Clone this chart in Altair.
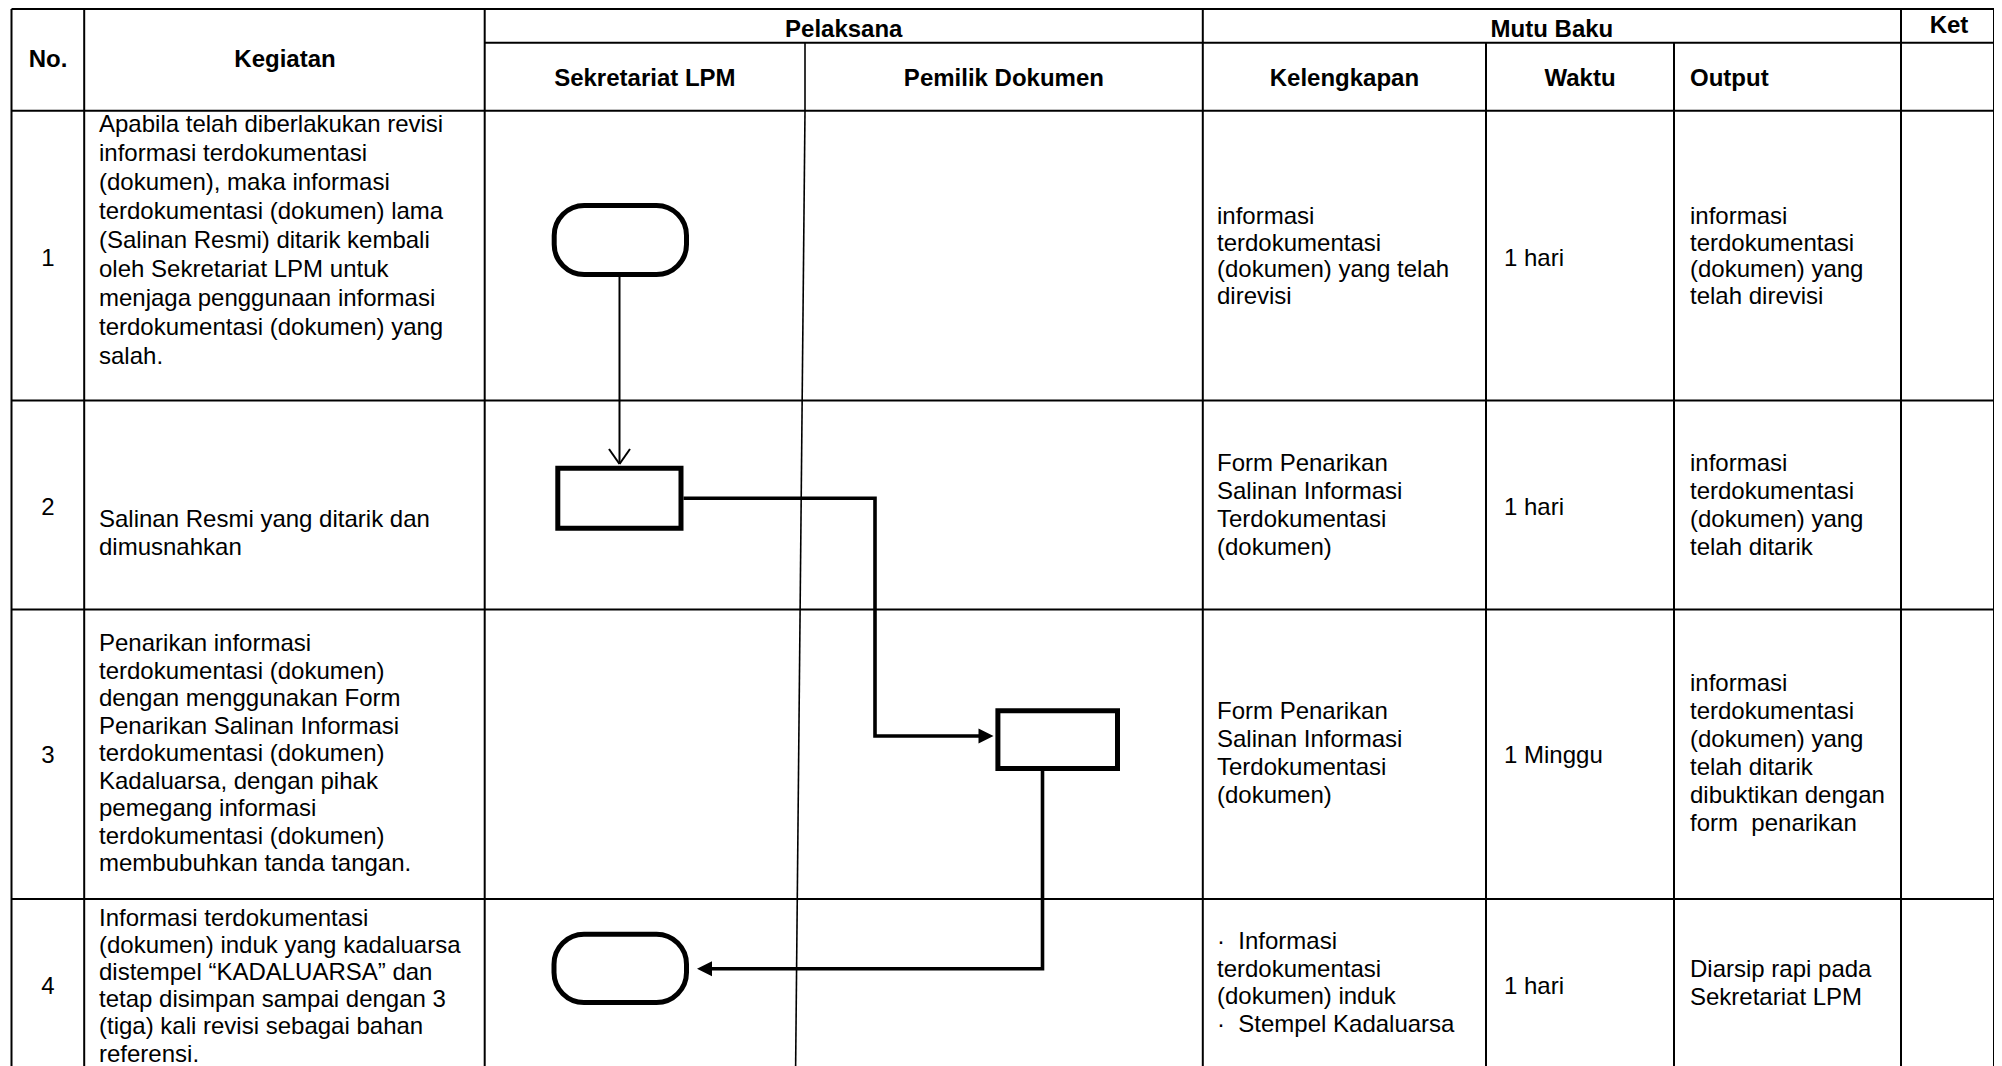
import altair as alt
import pandas as pd

# ------------------------------------------------------------------ content
HEAD_TOP = ["Pelaksana", "Mutu Baku", "Ket"]
HEAD_SPAN = ["No.", "Kegiatan"]
HEAD_SUB = ["Sekretariat LPM", "Pemilik Dokumen", "Kelengkapan", "Waktu"]
HEAD_SUB_LEFT = ["Output"]
ROW_NO = ["1", "2", "3", "4"]

KEGIATAN = [
    ["Apabila telah diberlakukan revisi", "informasi terdokumentasi",
     "(dokumen), maka informasi", "terdokumentasi (dokumen) lama",
     "(Salinan Resmi) ditarik kembali", "oleh Sekretariat LPM untuk",
     "menjaga penggunaan informasi", "terdokumentasi (dokumen) yang", "salah."],
    ["Salinan Resmi yang ditarik dan", "dimusnahkan"],
    ["Penarikan informasi", "terdokumentasi (dokumen)", "dengan menggunakan Form",
     "Penarikan Salinan Informasi", "terdokumentasi (dokumen)",
     "Kadaluarsa, dengan pihak", "pemegang informasi",
     "terdokumentasi (dokumen)", "membubuhkan tanda tangan."],
    ["Informasi terdokumentasi", "(dokumen) induk yang kadaluarsa",
     "distempel \u201cKADALUARSA\u201d dan", "tetap disimpan sampai dengan 3",
     "(tiga) kali revisi sebagai bahan", "referensi."],
]
KELENGKAPAN = [
    ["informasi", "terdokumentasi", "(dokumen) yang telah", "direvisi"],
    ["Form Penarikan", "Salinan Informasi", "Terdokumentasi", "(dokumen)"],
    ["Form Penarikan", "Salinan Informasi", "Terdokumentasi", "(dokumen)"],
    ["\u00b7\u00a0\u00a0Informasi", "terdokumentasi", "(dokumen) induk",
     "\u00b7\u00a0\u00a0Stempel Kadaluarsa"],
]
WAKTU = ["1 hari", "1 hari", "1 Minggu", "1 hari"]
OUTPUT = [
    ["informasi", "terdokumentasi", "(dokumen) yang", "telah direvisi"],
    ["informasi", "terdokumentasi", "(dokumen) yang", "telah ditarik"],
    ["informasi", "terdokumentasi", "(dokumen) yang", "telah ditarik",
     "dibuktikan dengan", "form\u00a0\u00a0penarikan"],
    ["Diarsip rapi pada", "Sekretariat LPM"],
]
STEP_SHAPE = ["terminator", "process", "process", "terminator"]

# ------------------------------------------------------------------ layout (page px)
W, H = 1986, 1058
X0, Y0 = 8, 8
XL, XNO, XKEG, XLANE, XMUTU, XWAKTU, XOUT, XKET, XR = 11.5, 84.2, 484.7, 805, 1202.8, 1486, 1674, 1901, 1994
YT, YSUB, YHEAD = 9, 42.7, 110.7
YROWS = [400.6, 609.5, 899]
YB = 1080
LANE_BOTTOM_X = 795.5

COL_TEXT = {  # x, first line y per row, line step per row
    "kegiatan": (99, [125, 520, 644, 918.5], [29, 28.4, 27.5, 27.2]),
    "kelengkapan": (1217, [217, 464, 712, 942], [26.7, 28, 28, 27.7]),
    "output": (1690, [217, 464, 684, 970], [26.7, 28, 28, 28]),
}
ROW_MID_Y = [258.5, 507.5, 756, 986.5]
WAKTU_X = 1504
NO_X = 48

SHAPE_BOX = [  # x, x2, y, y2 (stroke centre lines)
    (554.2, 686.5, 205.5, 274.5),
    (557.8, 681.0, 468.2, 528.2),
    (997.9, 1117.5, 710.8, 768.5),
    (554.0, 686.5, 934.2, 1002.5),
]
FLOWS = [
    [(683.5, 498.3), (875, 498.3), (875, 736), (979, 736)],
    [(1042.5, 771), (1042.5, 968.7), (711, 968.7)],
]
THIN_FLOW = [(619.5, 277), (619.5, 464)]
ARROW_FILLED = [("right", 993.5, 736), ("left", 697, 968.7)]

# ------------------------------------------------------------------ data frames
rules = []
def seg(x, y, x2, y2, w):
    rules.append(dict(x=x, y=y, x2=x2, y2=y2, w=w))

# table grid
seg(XL, YT, XR, YT, 2)
seg(XKEG, YSUB, XR, YSUB, 2)
for yy in [YHEAD] + YROWS:
    seg(XL, yy, XR, yy, 2)
for xx in [XL, XNO, XKEG, XMUTU, XKET, XR]:
    seg(xx, YT, xx, YB, 2)
for xx in [XWAKTU, XOUT]:
    seg(xx, YSUB, xx, YB, 2)
seg(XLANE, YSUB, XLANE, YHEAD, 1.6)
seg(XLANE, YHEAD, LANE_BOTTOM_X, YB, 1.6)
# thin connector with open arrow head
(tx, ty), (tx2, ty2) = THIN_FLOW
seg(tx, ty, tx2, ty2, 2)
seg(tx2 - 10.5, ty2 - 15, tx2, ty2, 2)
seg(tx2 + 10.5, ty2 - 15, tx2, ty2, 2)
# small stroke inside bottom of process box 3
seg(1041, 767.5, 1083.5, 767.5, 3)
rules_df = pd.DataFrame(rules)

flow_rows = []
for k, pts in enumerate(FLOWS):
    for i, (px, py) in enumerate(pts):
        flow_rows.append(dict(seg=k, i=i, x=px, y=py))
flow_df = pd.DataFrame(flow_rows)

box_df = pd.DataFrame([dict(kind=STEP_SHAPE[i], x=b[0], x2=b[1], y=b[2], y2=b[3])
                       for i, b in enumerate(SHAPE_BOX)])

arrow_right = pd.DataFrame([dict(x=a[1] - 7.5, y=a[2]) for a in ARROW_FILLED if a[0] == "right"])
arrow_left = pd.DataFrame([dict(x=a[1] + 7.5, y=a[2]) for a in ARROW_FILLED if a[0] == "left"])

head_c = pd.DataFrame(
    [dict(x=NO_X, y=60, t=HEAD_SPAN[0]), dict(x=285, y=60, t=HEAD_SPAN[1]),
     dict(x=(XKEG + XMUTU) / 2, y=29.5, t=HEAD_TOP[0]),
     dict(x=(XMUTU + XKET) / 2, y=29.5, t=HEAD_TOP[1]),
     dict(x=1949, y=26, t=HEAD_TOP[2]),
     dict(x=(XKEG + XLANE) / 2, y=79, t=HEAD_SUB[0]),
     dict(x=(XLANE + XMUTU) / 2, y=79, t=HEAD_SUB[1]),
     dict(x=(XMUTU + XWAKTU) / 2, y=79, t=HEAD_SUB[2]),
     dict(x=(XWAKTU + XOUT) / 2, y=79, t=HEAD_SUB[3])])
head_l = pd.DataFrame([dict(x=1690, y=79, t=HEAD_SUB_LEFT[0])])

body = []
for name, cells in [("kegiatan", KEGIATAN), ("kelengkapan", KELENGKAPAN), ("output", OUTPUT)]:
    cx, ys0, steps = COL_TEXT[name]
    for r, lines in enumerate(cells):
        for j, line in enumerate(lines):
            body.append(dict(x=cx, y=ys0[r] + j * steps[r], t=line))
for r, w in enumerate(WAKTU):
    body.append(dict(x=WAKTU_X, y=ROW_MID_Y[r], t=w))
body_df = pd.DataFrame(body)
no_df = pd.DataFrame([dict(x=NO_X, y=ROW_MID_Y[r], t=n) for r, n in enumerate(ROW_NO)])

# ------------------------------------------------------------------ chart
xs = alt.Scale(domain=[X0, X0 + W], nice=False, zero=False)
ys = alt.Scale(domain=[Y0, Y0 + H], nice=False, zero=False, reverse=True)
X = lambda f="x": alt.X(f"{f}:Q", scale=xs, axis=None)
Y = lambda f="y": alt.Y(f"{f}:Q", scale=ys, axis=None)
FONT = "Liberation Sans"

grid = alt.Chart(rules_df).mark_rule(color="black").encode(
    x=X(), y=Y(), x2="x2:Q", y2="y2:Q",
    strokeWidth=alt.StrokeWidth("w:Q", scale=None))

flows = alt.Chart(flow_df).mark_line(color="black", strokeWidth=3.6, strokeJoin="miter").encode(
    x=X(), y=Y(), detail="seg:N", order="i:Q")

procs = alt.Chart(box_df).transform_filter(alt.datum.kind == "process").mark_rect(
    fill="white", stroke="black", strokeWidth=5).encode(x=X(), x2="x2:Q", y=Y(), y2="y2:Q")
terms = alt.Chart(box_df).transform_filter(alt.datum.kind == "terminator").mark_rect(
    fill="white", stroke="black", strokeWidth=5, cornerRadius=30).encode(
    x=X(), x2="x2:Q", y=Y(), y2="y2:Q")

ar = alt.Chart(arrow_right).mark_point(
    shape="M1,0L-1,-1L-1,1Z", filled=True, color="black", opacity=1, size=225).encode(x=X(), y=Y())
al = alt.Chart(arrow_left).mark_point(
    shape="M-1,0L1,-1L1,1Z", filled=True, color="black", opacity=1, size=225).encode(x=X(), y=Y())

t_head_c = alt.Chart(head_c).mark_text(font=FONT, fontSize=24, fontWeight="bold", align="center",
                                       baseline="middle", color="black").encode(x=X(), y=Y(), text="t:N")
t_head_l = alt.Chart(head_l).mark_text(font=FONT, fontSize=24, fontWeight="bold", align="left",
                                       baseline="middle", color="black").encode(x=X(), y=Y(), text="t:N")
t_body = alt.Chart(body_df).mark_text(font=FONT, fontSize=24, align="left",
                                      baseline="middle", color="black").encode(x=X(), y=Y(), text="t:N")
t_no = alt.Chart(no_df).mark_text(font=FONT, fontSize=24, align="center",
                                  baseline="middle", color="black").encode(x=X(), y=Y(), text="t:N")

chart = alt.layer(grid, flows, procs, terms, ar, al, t_head_c, t_head_l, t_body, t_no).properties(
    width=W, height=H, padding=0, autosize=alt.AutoSizeParams(type="none"), background="white"
).configure_view(stroke=None)

chart.save("out.html", embed_options={"renderer": "svg", "actions": False})
